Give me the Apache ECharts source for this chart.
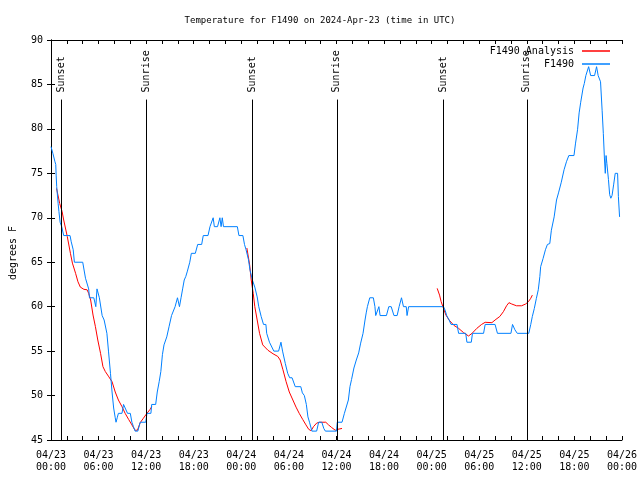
<!DOCTYPE html>
<html>
<head>
<meta charset="utf-8">
<script src="https://cdn.jsdelivr.net/npm/echarts@6/dist/echarts.min.js"></script>
<style>html,body{margin:0;padding:0;background:#fff}#c{width:640px;height:480px}</style>
</head>
<body>
<div id="c"></div>
<script>
// Tick labels for x (every 6 hours from 2024-04-23 00:00 UTC)
const xTickLabels = ['04/23\n00:00','04/23\n06:00','04/23\n12:00','04/23\n18:00','04/24\n00:00','04/24\n06:00','04/24\n12:00','04/24\n18:00','04/25\n00:00','04/25\n06:00','04/25\n12:00','04/25\n18:00','04/26\n00:00'];

// F1490 observations: hours since 04/23 00:00, degrees F
const obsHours = [0.0,0.2,0.25,0.45,0.5,0.6,0.65,0.72,0.9,1.0,1.15,1.35,1.6,2.4,2.55,2.8,2.95,4.0,4.35,4.75,4.85,5.4,5.65,5.8,5.95,6.1,6.45,6.7,7.05,7.25,7.35,7.5,7.7,7.9,8.1,8.2,8.35,8.5,8.95,9.15,9.4,9.65,10.0,10.2,10.4,10.6,10.95,11.25,11.95,12.1,12.6,12.7,13.2,13.4,13.65,13.85,14.05,14.25,14.6,14.9,15.2,15.65,15.95,16.2,16.4,16.6,16.8,17.0,17.2,17.5,17.7,18.2,18.5,19.0,19.2,19.8,20.05,20.25,20.45,20.6,21.0,21.3,21.45,21.6,21.75,23.5,23.7,24.2,24.4,24.6,24.9,25.1,25.4,25.7,26.0,26.2,26.5,26.8,27.1,27.2,27.55,27.75,28.1,28.7,29.0,29.2,29.55,29.85,30.1,30.4,30.8,31.5,31.7,31.95,32.2,32.4,32.6,32.9,33.5,33.75,34.15,34.4,34.6,36.0,36.1,36.7,37.0,37.25,37.5,37.7,37.9,38.2,38.5,38.8,39.05,39.35,39.6,39.75,39.9,40.2,40.65,40.85,40.95,41.2,41.35,41.5,42.3,42.6,42.9,43.25,43.65,43.9,44.2,44.45,44.8,44.9,45.1,49.5,49.7,49.9,50.2,50.45,51.2,51.4,52.3,52.45,53.0,53.15,54.55,54.75,56.0,56.3,58.0,58.2,58.5,58.8,60.25,60.5,60.7,60.95,61.2,61.45,61.65,61.75,62.05,62.35,62.6,62.9,63.1,63.45,63.75,64.0,64.35,64.7,65.0,65.3,65.95,66.15,66.4,66.6,66.8,67.1,67.25,67.45,67.8,68.05,68.55,68.8,69.0,69.3,69.5,69.65,69.8,69.9,70.0,70.1,70.3,70.45,70.6,70.75,70.95,71.15,71.45,71.55,71.7];
const obsTemps = [78,78,77.2,77.2,76.3,76,74.8,73.5,71.6,70.7,69.5,69,68,68,67.3,66.4,65,65,63.2,62,61,61,60,62,61.9,61,59,58.5,57,55,54,52.5,50.4,48.6,47.5,47,47.5,48,48,49,49,48,48,47,46.5,46,46,47,47,48,48,49,49,50.4,51.6,52.7,54.6,55.7,56.6,57.8,59,60,61,60,61,62,63,63.4,64,65,66,66,67,67,68,68,69,69,70,69,69,70,69,70,69,69,68,68,67,66.4,65.3,64.1,63,62.2,61.1,60,58.9,58,58,57,56,56,55,55,56,55,53.6,52.5,52,52,51,51,50.3,50,49,47.6,47,46,46,47,47,46.3,46,46,47,47,48,48,49.5,51,51.8,53.1,54,54.8,55.9,57,58.5,59.3,60,61,61,60,59,59,60,59,59,60,60,59,59,60,61,60,60,59,60,60,59.6,59,58.5,58,58,57,57,56,56,57,57,58,58,57,57,58,57.4,57,57,58,58.9,59.8,60.9,61.9,63.4,64.5,65.4,66.4,67,67.1,68.6,70.1,72,72.8,74,75.4,76.3,77,77,78.4,79.9,81.8,83,84.6,85.1,86,87,86,86,87,86,85.3,82.1,79.5,76.5,75,77,76.1,74.3,72.6,72.2,72.5,73.7,75,75,72.4,70.1];

// F1490 Analysis (three nightly segments; null separates them)
const anaHours = [0.7,1.1,1.4,1.6,2.05,2.45,2.7,3.1,3.4,3.7,4.15,4.55,4.75,5.0,5.3,5.6,5.9,6.25,6.55,6.85,7.3,7.7,8.1,8.5,8.95,9.35,9.8,10.2,10.6,10.9,11.25,11.65,12.1,12.5,12.7,18,24.7,25.05,25.25,25.5,25.7,26.0,26.3,26.7,27.35,28.0,28.6,28.9,29.25,29.65,30.05,30.5,30.9,31.3,31.75,32.15,32.5,32.8,33.1,33.5,33.85,34.65,35.0,35.4,35.85,36.15,36.7,42,48.7,49.0,49.2,49.5,49.8,50.2,50.8,51.4,52.0,52.65,53.1,53.7,54.3,54.75,55.6,56.0,56.6,57.05,57.45,57.75,58.1,58.7,59.35,59.85,60.2,60.5,60.7];
const anaTemps = [73.3,71.6,70.7,69.75,67.9,66,64.9,63.75,62.8,62.2,61.95,61.9,61.5,60.75,59.06,57.75,56.25,54.75,53.25,52.7,52.1,51.56,50.4,49.5,48.75,48,47.3,46.7,46.1,46.1,46.95,47.45,48,48.45,48.75,null,66.6,64.7,63,61.5,60,58.5,57,55.7,55.1,54.7,54.4,54,52.9,51.56,50.4,49.5,48.7,48,47.3,46.7,46.2,46.05,46.5,46.9,47,47,46.7,46.4,46.1,46.2,46.3,null,62.06,61.3,60.56,59.8,59.06,58.5,57.9,57.56,57.1,56.7,57.0,57.56,58.0,58.24,58.2,58.5,58.9,59.44,60.1,60.45,60.3,60.1,60.1,60.3,60.56,60.94,61.3];

// Sun events (hours since 04/23 00:00 UTC)
const sunsetHours = [1.3, 25.4, 49.5];
const sunriseHours = [12.0, 36.05, 60.0];
const sunLineTop = 83.3;
const sunLabelBase = 84.1;

const FONT = 'DejaVu Sans Mono';
const zip = (a, b) => a.map((v, i) => [v, b[i]]);

const sunEvents = sunsetHours.map(h => ({h, name: 'Sunset'}))
  .concat(sunriseHours.map(h => ({h, name: 'Sunrise'})));

const legendCommon = {right: 30, align: 'right', itemWidth: 28, itemHeight: 1.5, icon: 'rect', padding: 0,
  textStyle: {fontFamily: FONT, fontSize: 10, color: '#000', padding: [0, 3, 0, 0]}};

const chart = echarts.init(document.getElementById('c'), null, {renderer: 'canvas'});
chart.setOption({
  animation: false,
  backgroundColor: '#fff',
  textStyle: {fontFamily: FONT, color: '#000'},
  title: {
    text: 'Temperature for F1490 on 2024-Apr-23 (time in UTC)',
    left: 'center', top: 11,
    textStyle: {fontFamily: FONT, fontSize: 9, fontWeight: 'normal', color: '#000'}
  },
  legend: [
    Object.assign({data: ['F1490 Analysis'], top: 46}, legendCommon),
    Object.assign({data: ['F1490'], top: 59}, legendCommon)
  ],
  grid: {left: 47, right: 18, top: 40, bottom: 40, containLabel: false},
  xAxis: [
    {type: 'value', min: 0, max: 72, interval: 6, position: 'bottom',
     axisLine: {lineStyle: {color: '#000', width: 1}},
     axisTick: {inside: true, length: 4, lineStyle: {color: '#000'}},
     minorTick: {show: true, splitNumber: 3, length: 4, lineStyle: {color: '#000'}},
     splitLine: {show: false},
     axisLabel: {fontFamily: FONT, fontSize: 10, color: '#000', lineHeight: 12, margin: 9,
       formatter: v => xTickLabels[Math.round(v / 6)]}},
    {type: 'value', min: 0, max: 72, interval: 6, position: 'top',
     axisLine: {lineStyle: {color: '#000', width: 1}},
     axisTick: {inside: true, length: 4, lineStyle: {color: '#000'}},
     minorTick: {show: true, splitNumber: 3, length: 4, lineStyle: {color: '#000'}},
     splitLine: {show: false}, axisLabel: {show: false}}
  ],
  yAxis: [
    {type: 'value', min: 45, max: 90, interval: 5, position: 'left',
     name: 'degrees F', nameLocation: 'middle', nameGap: 33, nameRotate: 90,
     nameTextStyle: {fontFamily: FONT, fontSize: 10, color: '#000', padding: [0, 26, 0, 0]},
     axisLine: {show: true, lineStyle: {color: '#000', width: 1}},
     axisTick: {show: true, inside: true, length: 4, lineStyle: {color: '#000'}},
     splitLine: {show: false},
     axisLabel: {fontFamily: FONT, fontSize: 10, color: '#000', margin: 8}},
    {type: 'value', min: 45, max: 90, interval: 5, position: 'right',
     axisLine: {show: true, lineStyle: {color: '#000', width: 1}},
     axisTick: {show: true, inside: true, length: 4, lineStyle: {color: '#000'}},
     splitLine: {show: false}, axisLabel: {show: false}}
  ],
  series: [
    {name: 'sun', type: 'line', data: [], silent: true,
     markLine: {silent: true, symbol: ['none', 'none'], animation: false,
       lineStyle: {color: '#000', width: 1, type: 'solid'},
       label: {show: false}, emphasis: {disabled: true},
       data: sunEvents.map(e => [{coord: [e.h, 45]}, {coord: [e.h, sunLineTop]}])},
     markPoint: {silent: true, symbol: 'circle', symbolSize: 0, animation: false,
       label: {show: true, position: 'inside', rotate: 90, align: 'left', verticalAlign: 'middle',
         fontFamily: FONT, fontSize: 10, color: '#000', formatter: p => p.name},
       data: sunEvents.map(e => ({name: e.name, coord: [e.h, sunLabelBase]}))}},
    {name: 'F1490 Analysis', type: 'line', data: zip(anaHours, anaTemps), connectNulls: false,
     symbol: 'none', showSymbol: false, color: '#ff0000', lineStyle: {color: '#ff0000', width: 1}},
    {name: 'F1490', type: 'line', data: zip(obsHours, obsTemps),
     symbol: 'none', showSymbol: false, color: '#0080ff', lineStyle: {color: '#0080ff', width: 1}}
  ]
});
</script>
</body>
</html>
